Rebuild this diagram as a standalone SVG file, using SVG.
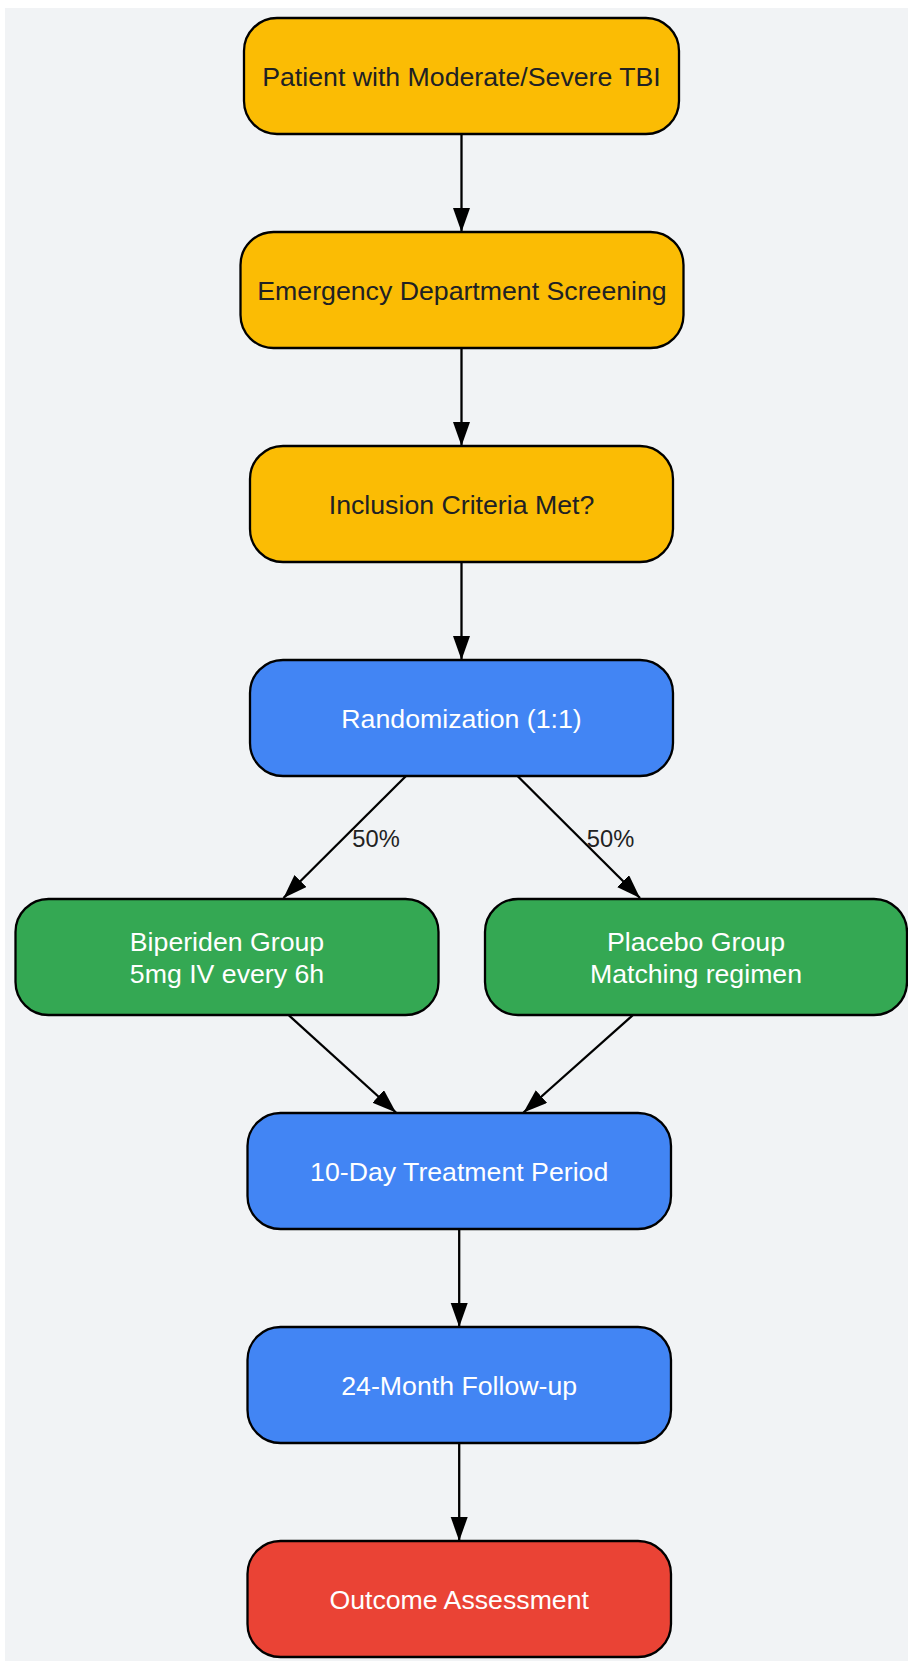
<svg xmlns="http://www.w3.org/2000/svg" width="908" height="1661" viewBox="0 0 908 1661">
<defs>
<style>
.n{stroke:#000;stroke-width:2.3}
.y{fill:#FBBC04}
.b{fill:#4285F4}
.g{fill:#34A853}
.r{fill:#EA4335}
.t{font-family:"Liberation Sans",Arial,sans-serif;font-size:26.7px;text-anchor:middle}
.dk{fill:#202124}
.wt{fill:#ffffff}
.e{stroke:#000;stroke-width:2.3;fill:none;marker-end:url(#ah)}
.lbl{font-family:"Liberation Sans",Arial,sans-serif;font-size:23.7px;fill:#222;text-anchor:middle}
</style>
<marker id="ah" markerUnits="userSpaceOnUse" markerWidth="25" markerHeight="18" refX="24" refY="8.5" orient="auto">
<path d="M0,0 L24,8.5 L0,17 z" fill="#000"/>
</marker>
</defs>
<rect x="5" y="8" width="910" height="1660" fill="#F1F3F5"/>
<g id="connectors">
<line class="e" x1="461.5" y1="134" x2="461.5" y2="232"/>
<line class="e" x1="461.5" y1="348" x2="461.5" y2="446"/>
<line class="e" x1="461.5" y1="562" x2="461.5" y2="660"/>
<line class="e" x1="406" y1="776" x2="283.5" y2="898"/>
<line class="e" x1="517.5" y1="776" x2="640" y2="898"/>
<line class="e" x1="288.5" y1="1015" x2="396" y2="1112.5"/>
<line class="e" x1="633" y1="1015" x2="523.5" y2="1112.5"/>
<line class="e" x1="459.2" y1="1229" x2="459.2" y2="1327"/>
<line class="e" x1="459.2" y1="1443" x2="459.2" y2="1541"/>
<text class="lbl" x="376" y="846.5">50%</text>
<text class="lbl" x="610.5" y="846.5">50%</text>
</g>
<g id="patient">
<rect class="n y" x="244" y="18" width="435" height="116" rx="33" ry="33"/>
<text class="t dk" x="461.5" y="85.5">Patient with Moderate/Severe TBI</text>
</g>
<g id="screening">
<rect class="n y" x="240.5" y="232" width="443" height="116" rx="33" ry="33"/>
<text class="t dk" x="462" y="299.5">Emergency Department Screening</text>
</g>
<g id="inclusion">
<rect class="n y" x="250" y="446" width="423" height="116" rx="33" ry="33"/>
<text class="t dk" x="461.5" y="513.5">Inclusion Criteria Met?</text>
</g>
<g id="randomization">
<rect class="n b" x="250" y="660" width="423" height="116" rx="33" ry="33"/>
<text class="t wt" x="461.5" y="727.5">Randomization (1:1)</text>
</g>
<g id="biperiden">
<rect class="n g" x="15.5" y="899" width="423" height="116" rx="33" ry="33"/>
<text class="t wt" x="227" y="951">Biperiden Group</text>
<text class="t wt" x="227" y="982.5">5mg IV every 6h</text>
</g>
<g id="placebo">
<rect class="n g" x="485" y="899" width="422" height="116" rx="33" ry="33"/>
<text class="t wt" x="696" y="951">Placebo Group</text>
<text class="t wt" x="696" y="982.5">Matching regimen</text>
</g>
<g id="treatment">
<rect class="n b" x="247.5" y="1113" width="423.5" height="116" rx="33" ry="33"/>
<text class="t wt" x="459.2" y="1180.5">10-Day Treatment Period</text>
</g>
<g id="followup">
<rect class="n b" x="247.5" y="1327" width="423.5" height="116" rx="33" ry="33"/>
<text class="t wt" x="459.2" y="1394.5">24-Month Follow-up</text>
</g>
<g id="outcome">
<rect class="n r" x="247.5" y="1541" width="423.5" height="116" rx="33" ry="33"/>
<text class="t wt" x="459.2" y="1608.5">Outcome Assessment</text>
</g>
</svg>
